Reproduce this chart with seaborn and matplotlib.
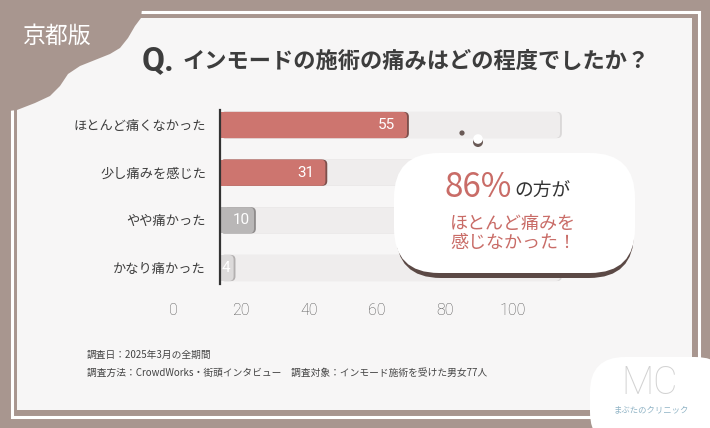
import matplotlib
matplotlib.use('Agg')
import matplotlib.pyplot as plt
import seaborn as sns
import pandas as pd
from matplotlib.patches import FancyBboxPatch, Rectangle, Polygon, Circle
from matplotlib.transforms import ScaledTranslation

# ---- data ----
categories = ["ほとんど痛くなかった", "少し痛みを感じた", "やや痛かった", "かなり痛かった"]
values = [55, 31, 10, 4]
full_scale = [100, 100, 100, 100]
tick_values = [0, 20, 40, 60, 80, 100]
tick_labels = ["0", "20", "40", "60", "80", "100"]
bar_colors = ["#cd756f", "#cd756f", "#b9b7b7", "#dcdada"]
shadow_colors = ["#7d4f4b", "#7d4f4b", "#8f8c8c", "#b3b0b0"]
title_q = "Q."
title_text = "インモードの施術の痛みはどの程度でしたか？"
region_label = "京都版"
callout_big = "86%"
callout_small = "の方が"
callout_lines = ["ほとんど痛みを", "感じなかった！"]
note1 = "調査日：2025年3月の全期間"
note2 = "調査方法：CrowdWorks・街頭インタビュー　調査対象：インモード施術を受けた男女77人"
logo_text = "MC"
logo_sub = "まぶたのクリニック"

sns.set_theme(style="white")
plt.rcParams['font.family'] = ['Noto Sans CJK JP', 'DejaVu Sans']

W, H = 710, 428
BROWN = '#a8968f'
fig = plt.figure(figsize=(7.1, 4.28), dpi=100)
fig.patch.set_facecolor(BROWN)

# ---- background decorations (pixel coords) ----
bg = fig.add_axes([0, 0, 1, 1], zorder=0)
bg.set_xlim(0, W); bg.set_ylim(H, 0); bg.axis('off')
bg.add_patch(Rectangle((11.5, 11.5), 687, 405, fill=False, ec='white', lw=2.2))
bg.add_patch(Rectangle((17, 18), 675, 392, fc='#f7f6f6', ec='none'))
bg.add_patch(FancyBboxPatch((590, 357), 140, 90, boxstyle='round,pad=0,rounding_size=35',
                            fc='white', ec='none'))
blob = [(0, 0), (143, 0), (141, 18), (135, 26), (128, 38), (120, 48), (110, 54), (95, 60),
        (80, 66), (68, 74), (60, 86), (50, 96), (35, 103), (17, 110), (0, 112)]
bg.add_patch(Polygon(blob, closed=True, fc=BROWN, ec='none'))
bg.text(57, 36, region_label, color='white', fontsize=16.5, ha='center', va='center')
bg.text(142, 61, title_q, color='#3d3d3d', fontsize=24, fontweight='bold', ha='left', va='center',
        family=['Roboto', 'DejaVu Sans'])
bg.text(183, 61, title_text, color='#3d3d3d', fontsize=16, fontweight='bold', ha='left', va='center')
bg.text(87, 355, note1, color='#444444', fontsize=7, ha='left', va='center')
bg.text(87, 373, note2, color='#444444', fontsize=7, ha='left', va='center')

# ---- main chart ----
ax = fig.add_axes([220 / W, 1 - 284 / H, 340 / W, 174 / H], zorder=2)
ax.patch.set_alpha(0)
df = pd.DataFrame({'category': categories, 'value': values, 'full': full_scale})
sns.barplot(data=df, x='full', y='category', color='#efeded', width=0.55, ax=ax, orient='h')
sns.barplot(data=df, x='value', y='category', hue='category', palette=bar_colors,
            width=0.55, ax=ax, legend=False, orient='h')
ax.set_xlim(0, 100)
ax.set_ylim(3.336, -0.315)

px_x = 340 / 100.0
px_y = 174 / (3.336 + 0.315)
aspect = px_x / px_y
patches = list(ax.patches)
for k, p in enumerate(patches):
    x, y, w, h = p.get_x(), p.get_y(), p.get_width(), p.get_height()
    p.remove()
    idx = int(round(y + h / 2))
    if k < 4:
        fc, sc = '#efeded', '#dad8d8'
    else:
        fc, sc = bar_colors[idx], shadow_colors[idx]
    z = 2 + (k >= 4) * 3
    ax.add_patch(FancyBboxPatch((x, y), w + 0.55, h,
                                boxstyle='round,pad=0,rounding_size=1.4', mutation_aspect=aspect,
                                fc=sc, ec='none', zorder=z, clip_on=False))
    ax.add_patch(FancyBboxPatch((x, y), w, h,
                                boxstyle='round,pad=0,rounding_size=1.4', mutation_aspect=aspect,
                                fc=fc, ec='none', zorder=z + 1, clip_on=False))
    ax.add_patch(Rectangle((x, y), min(w, 2.0), h, fc=fc, ec='none', zorder=z + 2, clip_on=False))

for i, v in enumerate(values):
    inset = 3.4 if v >= 20 else 1.1
    ax.text(v - inset, i, str(v), ha='right', va='center', color='white', fontsize=11,
            family=['Roboto', 'DejaVu Sans'], zorder=10)

ax.set_xticks(tick_values, tick_labels)
ax.tick_params(axis='x', length=0, pad=14, labelsize=11.5, labelcolor='#555555')
ax.tick_params(axis='y', length=0, pad=10, labelsize=9.5, labelcolor='#3d3d3d')
shift = ScaledTranslation(-0.47, 0, fig.dpi_scale_trans)
for lab in ax.get_xticklabels():
    lab.set_transform(lab.get_transform() + shift)
    lab.set_fontfamily(['Roboto', 'DejaVu Sans'])
    lab.set_fontweight('light')
ax.set_xlabel(''); ax.set_ylabel('')
for s in ['top', 'right', 'bottom']:
    ax.spines[s].set_visible(False)
ax.spines['left'].set_color('#333333')
ax.spines['left'].set_linewidth(1.6)
ax.spines['left'].set_zorder(12)

# ---- callout overlay ----
top = fig.add_axes([0, 0, 1, 1], zorder=3)
top.set_xlim(0, W); top.set_ylim(H, 0); top.axis('off'); top.patch.set_alpha(0)
top.add_patch(FancyBboxPatch((396, 160), 238, 118, boxstyle='round,pad=0,rounding_size=45',
                             fc='#5b4945', ec='none'))
top.add_patch(FancyBboxPatch((394, 153), 241, 120, boxstyle='round,pad=0,rounding_size=45',
                             fc='white', ec='none'))
top.add_patch(Circle((462, 133), 2.6, fc='#6a5a56', ec='none'))
top.add_patch(Circle((478, 142), 5, fc='#6a5a56', ec='none'))
top.add_patch(Circle((478, 139), 4.8, fc='white', ec='none'))
RED = '#c96c67'
t_big = top.text(445, 197, callout_big, color=RED, fontsize=24, ha='left', va='baseline')
fig.canvas.draw()
bb = t_big.get_window_extent()
x_end = bb.x1
top.text(x_end + 2, 197, callout_small, color='#333333', fontsize=13.5, ha='left', va='baseline')
top.text(450, 224, callout_lines[0], color=RED, fontsize=13, ha='left', va='center')
top.text(450, 243, callout_lines[1], color=RED, fontsize=13, ha='left', va='center')

top.text(650, 383, logo_text, color='#d2d2d2', fontsize=27, ha='center', va='center',
         family=['Roboto', 'DejaVu Sans'], fontweight='light')
top.text(651, 410, logo_sub, color='#8fb3c5', fontsize=6, ha='center', va='center')

fig.savefig('out.png', dpi=100, facecolor=fig.get_facecolor())
